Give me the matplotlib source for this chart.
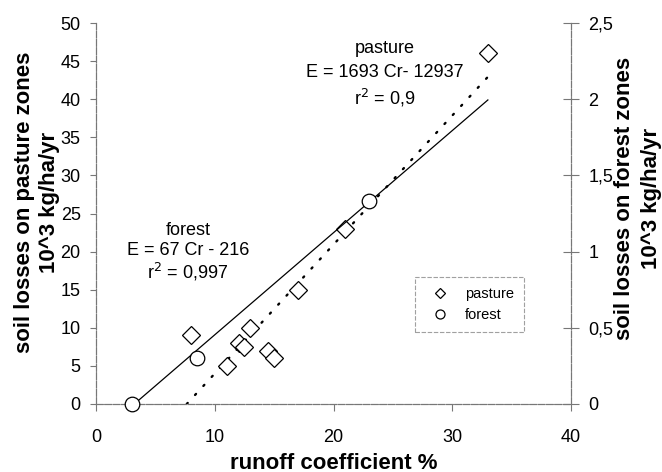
import matplotlib
matplotlib.use("Agg")
import matplotlib.pyplot as plt
from matplotlib.lines import Line2D
import numpy as np

plt.rcParams['font.family'] = ['Liberation Sans', 'DejaVu Sans']

# pasture data (runoff coefficient %, soil loss 10^3 kg/ha/yr)
pasture_x = [8, 11, 12, 12.5, 13, 14.5, 15, 17, 21, 33]
pasture_y = [9, 5, 8, 7.5, 10, 7, 6, 15, 23, 46]
# forest data (runoff coefficient %, soil loss 10^3 kg/ha/yr)
forest_x = [3, 8.5, 23]
forest_y = [0.0, 0.3, 1.33]

# regression lines (kg/ha/yr)
pasture_fit = (1693, -12937)
forest_fit = (67, -216)
pasture_fit_range = [12937 / 1693, 33]
forest_fit_range = [3, 33]

x_ticks = [0, 10, 20, 30, 40]
left_ticks = [0, 5, 10, 15, 20, 25, 30, 35, 40, 45, 50]
right_ticks = [0, 0.5, 1, 1.5, 2, 2.5]
right_tick_labels = ['0', '0,5', '1', '1,5', '2', '2,5']

W, H = 662, 472
fig = plt.figure(figsize=(W / 100, H / 100), dpi=100)
ax = fig.add_axes([96 / W, 1 - 404 / H, (571 - 96) / W, (404 - 23) / H])
ax2 = ax.twinx()

spine_col = '#777777'
for a in (ax, ax2):
    a.spines['top'].set_visible(False)
    for s in ('left', 'right', 'bottom'):
        a.spines[s].set_color(spine_col)
        a.spines[s].set_linewidth(0.8)
        a.spines[s].set_linestyle((0, (6, 1.5)))

ax.set_xlim(0, 40)
ax.set_ylim(0, 50)
ax2.set_ylim(0, 2.5)

# fit lines
px = np.array(pasture_fit_range)
ax.plot(px, (pasture_fit[0] * px + pasture_fit[1]) / 1000, color='black',
        lw=1.7, linestyle=(0, (0.6, 4.6)), dash_capstyle='round')
fx = np.array(forest_fit_range)
ax2.plot(fx, (forest_fit[0] * fx + forest_fit[1]) / 1000, color='black', lw=0.9)

# points
ax.plot(pasture_x, pasture_y, linestyle='none', marker='D', markersize=9,
        markerfacecolor='white', markeredgecolor='black', markeredgewidth=0.9,
        clip_on=False, zorder=5)
ax2.plot(forest_x, forest_y, linestyle='none', marker='o', markersize=10.5,
         markerfacecolor='white', markeredgecolor='black', markeredgewidth=0.9,
         clip_on=False, zorder=5)

ax.set_xticks(x_ticks)
ax.set_yticks(left_ticks)
ax2.set_yticks(right_ticks)
ax2.set_yticklabels(right_tick_labels)

ax.tick_params(axis='x', direction='out', length=5, width=0.8, color=spine_col,
               labelsize=13, pad=13)
ax.tick_params(axis='y', direction='out', length=4, width=0.8, color=spine_col,
               labelsize=13, pad=7)
ax2.tick_params(axis='y', direction='inout', length=11, width=0.8, color=spine_col,
                labelsize=13, pad=7)

ax.set_xlabel('runoff coefficient %', fontsize=16, fontweight='bold')
ax.xaxis.label.set_va('center')
ax.xaxis.set_label_coords(0.5, -(463 - 404) / 381)

lab_kw = dict(rotation=90, fontsize=16, fontweight='bold', ha='center', va='center')
fig.text(25 / W, 1 - 202 / H, 'soil losses on pasture zones', **lab_kw)
fig.text(50 / W, 1 - 202 / H, '10^3 kg/ha/yr', **lab_kw)
fig.text(625 / W, 1 - 198 / H, 'soil losses on forest zones', **lab_kw)
fig.text(652 / W, 1 - 198 / H, '10^3 kg/ha/yr', **lab_kw)

# annotations
ann_kw = dict(fontsize=13, ha='center', va='center')
ax.text(24.3, 46.7, 'pasture', **ann_kw)
ax.text(24.3, 43.5, 'E = 1693 Cr- 12937', **ann_kw)
ax.text(24.3, 40.2, 'r$^2$ = 0,9', **ann_kw)

ax.text(7.75, 22.8, 'forest', **ann_kw)
ax.text(7.75, 20.1, 'E = 67 Cr - 216', **ann_kw)
ax.text(7.75, 17.3, 'r$^2$ = 0,997', **ann_kw)

# legend
handles = [
    Line2D([], [], linestyle='none', marker='D', markersize=5.5, markerfacecolor='white',
           markeredgecolor='black', markeredgewidth=0.9),
    Line2D([], [], linestyle='none', marker='o', markersize=6.5, markerfacecolor='white',
           markeredgecolor='black', markeredgewidth=0.9),
]
leg = ax.legend(handles, ['pasture', 'forest'], loc='upper left',
                bbox_to_anchor=((415 - 96) / 475, 1 - (277 - 23) / 381),
                fontsize=10.5, frameon=True, fancybox=False, handlelength=2.05,
                handletextpad=0.7, borderpad=0.67, labelspacing=0.5,
                borderaxespad=0)
leg.get_frame().set_edgecolor('#888888')
leg.get_frame().set_linestyle((0, (4, 1.5)))
leg.get_frame().set_linewidth(0.8)

fig.savefig('out.png', dpi=100)
